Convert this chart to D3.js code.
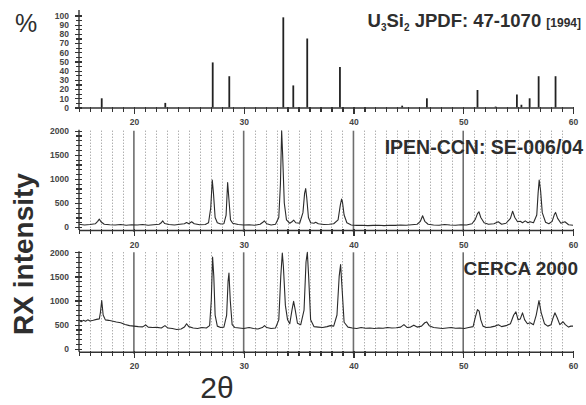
<!DOCTYPE html>
<html>
<head>
<meta charset="utf-8">
<script src="https://cdn.jsdelivr.net/npm/d3@7"></script>
<style>
    body { margin: 0; background: #fff; }
    svg { font-family: "Liberation Sans", Arial, sans-serif; }
    .tick text { font-size: 8.5px; font-weight: bold; fill: #444; }
    .domain { stroke: #333; stroke-width: 1.4; }
    .tick line { stroke: #333; stroke-width: 1.2; shape-rendering: crispEdges; }
</style>
</head>
<body>
<script>
// reference pattern U3Si2 JPDF 47-1070, [2theta, relative %]
var refSticks = [
    [17.07, 10], [22.86, 5], [27.18, 49], [28.69, 34], [33.61, 98], [34.52, 24],
    [35.79, 75], [38.77, 44], [44.44, 2], [46.69, 10], [51.30, 19], [52.95, 1],
    [54.89, 14], [55.30, 3], [56.05, 10], [56.87, 34], [58.41, 34]
];

// IPEN-CCN SE-006/04 diffractogram, [2theta, counts]
var ipenPattern = [
    [15.0, 60], [15.5, 45], [16.0, 55], [16.5, 70], [16.7, 120], [16.85, 165], [17.0, 110], [17.3, 60],
    [17.8, 50], [18.3, 45], [18.8, 55], [19.3, 40], [19.8, 50], [20.3, 45], [20.8, 55], [21.3, 40],
    [21.8, 50], [22.3, 60], [22.5, 90], [22.62, 130], [22.8, 75], [23.2, 55], [23.7, 45], [24.2, 60],
    [24.6, 70], [24.8, 95], [25.0, 70], [25.26, 110], [25.5, 70], [26.0, 50], [26.5, 55], [26.8, 90],
    [27.0, 400], [27.14, 975], [27.25, 700], [27.4, 200], [27.6, 90], [27.9, 65], [28.2, 70], [28.4, 250],
    [28.54, 925], [28.65, 600], [28.8, 150], [29.0, 80], [29.5, 55], [30.0, 45], [30.5, 50], [31.0, 40],
    [31.5, 60], [31.75, 100], [31.88, 130], [32.1, 70], [32.5, 45], [32.9, 60], [33.2, 200], [33.35, 900],
    [33.46, 2000], [33.55, 1500], [33.7, 500], [33.9, 150], [34.2, 80], [34.4, 110], [34.55, 145], [34.75, 90],
    [35.1, 80], [35.4, 300], [35.55, 700], [35.65, 800], [35.75, 600], [35.9, 200], [36.1, 90], [36.4, 80],
    [36.56, 100], [36.8, 70], [37.3, 55], [37.8, 60], [38.2, 70], [38.6, 150], [38.8, 450], [38.92, 580],
    [39.0, 520], [39.15, 250], [39.4, 90], [39.8, 45], [40.3, 35], [40.8, 40], [41.3, 30], [41.8, 35],
    [42.3, 40], [42.8, 30], [43.3, 40], [43.8, 35], [44.3, 45], [44.8, 40], [45.3, 50], [45.8, 60],
    [46.1, 120], [46.3, 235], [46.5, 120], [46.8, 60], [47.3, 45], [47.8, 40], [48.3, 55], [48.8, 45],
    [49.3, 40], [49.8, 50], [50.3, 45], [50.8, 70], [51.1, 160], [51.3, 280], [51.43, 318], [51.6, 200],
    [51.9, 90], [52.3, 60], [52.8, 70], [53.19, 110], [53.5, 60], [53.9, 80], [54.3, 180], [54.5, 330],
    [54.7, 200], [54.95, 110], [55.2, 120], [55.4, 90], [55.65, 130], [55.9, 90], [56.1, 110], [56.4, 90],
    [56.7, 250], [56.82, 700], [56.92, 975], [57.05, 750], [57.2, 300], [57.5, 100], [57.8, 70], [58.1, 120],
    [58.3, 260], [58.41, 305], [58.6, 180], [58.9, 80], [59.26, 110], [59.6, 50], [60.0, 40]
];

// CERCA 2000 diffractogram, [2theta, counts]
var cercaPattern = [
    [15.0, 606], [15.2, 560], [15.4, 590], [15.6, 570], [15.8, 600], [16.0, 575], [16.3, 590], [16.6, 610],
    [16.85, 620], [16.95, 750], [17.07, 1000], [17.2, 700], [17.4, 600], [17.7, 590], [18.0, 575], [18.4, 555],
    [18.8, 540], [19.2, 505], [19.6, 480], [20.0, 470], [20.4, 460], [20.8, 455], [21.07, 495], [21.3, 450],
    [21.7, 440], [22.1, 445], [22.5, 430], [22.83, 480], [23.1, 430], [23.5, 420], [23.9, 400], [24.3, 410],
    [24.6, 450], [24.8, 520], [25.0, 460], [25.4, 430], [25.8, 420], [26.2, 440], [26.6, 430], [26.9, 480],
    [27.05, 1000], [27.17, 1900], [27.28, 1500], [27.4, 700], [27.6, 470], [27.9, 440], [28.2, 450], [28.45, 700],
    [28.58, 1400], [28.66, 1570], [28.78, 1000], [28.95, 500], [29.2, 440], [29.6, 430], [30.0, 420], [30.5, 440],
    [30.9, 420], [31.3, 410], [31.7, 440], [31.9, 480], [32.1, 440], [32.5, 420], [32.9, 430], [33.2, 600],
    [33.38, 1500], [33.52, 1985], [33.62, 1700], [33.8, 900], [34.0, 600], [34.2, 520], [34.4, 800], [34.55, 985],
    [34.7, 800], [34.9, 530], [35.2, 500], [35.5, 800], [35.68, 1800], [35.8, 2000], [35.92, 1500], [36.1, 600],
    [36.4, 460], [36.8, 450], [37.2, 440], [37.6, 460], [37.9, 480], [38.2, 470], [38.5, 700], [38.7, 1500],
    [38.83, 1745], [38.95, 1300], [39.15, 550], [39.5, 450], [39.9, 430], [40.3, 420], [40.7, 440], [41.1, 425],
    [41.5, 430], [41.9, 420], [42.3, 430], [42.7, 425], [43.1, 440], [43.5, 430], [43.9, 435], [44.3, 450],
    [44.6, 500], [44.9, 440], [45.2, 450], [45.5, 490], [45.8, 450], [46.2, 470], [46.5, 540], [46.67, 558],
    [46.9, 480], [47.3, 440], [47.7, 430], [48.1, 420], [48.5, 430], [48.9, 440], [49.3, 425], [49.7, 430],
    [50.1, 420], [50.5, 440], [50.9, 460], [51.1, 650], [51.3, 813], [51.45, 780], [51.6, 600], [51.8, 470],
    [52.1, 440], [52.5, 450], [52.9, 470], [53.2, 500], [53.5, 460], [53.9, 480], [54.3, 520], [54.6, 700],
    [54.8, 765], [55.0, 600], [55.2, 620], [55.4, 745], [55.6, 600], [55.85, 520], [56.1, 540], [56.4, 500],
    [56.65, 700], [56.9, 1000], [57.1, 750], [57.4, 520], [57.7, 470], [58.0, 500], [58.2, 650], [58.35, 745],
    [58.55, 650], [58.8, 500], [59.1, 560], [59.3, 500], [59.6, 450], [59.8, 470], [60.0, 470]
];

var xTickLabels = [20, 30, 40, 50, 60];
var solidGrid = [20, 30, 40, 50];
var percentTicks = [0, 10, 20, 30, 40, 50, 60, 70, 80, 90, 100];
var countTicks = [0, 500, 1000, 1500, 2000];

var width = 586, height = 405;
var svg = d3.select("body").append("svg")
    .attr("width", width)
    .attr("height", height);

var x = d3.scaleLinear().domain([15, 60]).range([79, 573]);
var yTop = d3.scaleLinear().domain([0, 105]).range([107.5, 10.9]);
var yMid = d3.scaleLinear().domain([-60, 2000]).range([230, 130.7]);
var yBot = d3.scaleLinear().domain([-60, 2000]).range([351.7, 252.3]);

var degrees = d3.range(16, 60);
var textColor = "#2e2e2e";

function drawXAxis(y0) {
    // minor ticks every degree
    var minor = svg.append("g")
        .attr("transform", "translate(0," + y0 + ")")
        .call(d3.axisBottom(x).tickValues(d3.range(15, 61)).tickSize(4).tickFormat(function () { return ""; }));
    minor.select(".domain").remove();
    minor.selectAll(".tick line").attr("y1", -1).attr("y2", 4);
    var ax = svg.append("g")
        .attr("transform", "translate(0," + y0 + ")")
        .call(d3.axisBottom(x).tickValues(xTickLabels).tickSize(6).tickSizeOuter(0).tickPadding(4));
    ax.selectAll(".tick text").attr("dy", "0.9em");
}

function drawYAxis(scale, ticks, minorStep, top) {
    var d = scale.domain();
    var minor = svg.append("g")
        .attr("transform", "translate(" + x(15) + ",0)")
        .call(d3.axisLeft(scale).tickValues(d3.range(0, ticks[ticks.length - 1] + 1, minorStep)).tickSize(3).tickFormat(function () { return ""; }));
    minor.select(".domain").remove();
    minor.selectAll(".tick line").attr("x2", 3).attr("x1", -3);
    var ax = svg.append("g")
        .attr("transform", "translate(" + x(15) + ",0)")
        .call(d3.axisLeft(scale).tickValues(ticks).tickSize(4).tickSizeOuter(0).tickPadding(6).tickFormat(d3.format("d")));
    ax.select(".domain").attr("d", "M0," + scale(d[0]) + "V" + top);
    ax.selectAll(".tick line").attr("x1", 3).attr("x2", -4);
}

function drawGrid(scale) {
    var top = scale(2000), bottom = scale(-60);
    svg.append("g").selectAll("line")
        .data(degrees.filter(function (d) { return solidGrid.indexOf(d) == -1; }))
        .enter().append("line")
        .attr("x1", function (d) { return Math.round(x(d)) + 0.5; })
        .attr("x2", function (d) { return Math.round(x(d)) + 0.5; })
        .attr("y1", top)
        .attr("y2", bottom)
        .attr("stroke", "#8c8c8c")
        .attr("stroke-width", 1)
        .attr("stroke-dasharray", "1,2");
    svg.append("g").selectAll("line")
        .data(solidGrid)
        .enter().append("line")
        .attr("x1", function (d) { return x(d); })
        .attr("x2", function (d) { return x(d); })
        .attr("y1", top)
        .attr("y2", bottom + 2)
        .attr("stroke", "#6e6e6e")
        .attr("stroke-width", 1.6);
}

// Top panel: stick pattern
svg.append("g").selectAll("line")
    .data(refSticks)
    .enter().append("line")
    .attr("x1", function (d) { return x(d[0]); })
    .attr("x2", function (d) { return x(d[0]); })
    .attr("y1", yTop(0))
    .attr("y2", function (d) { return yTop(d[1]); })
    .attr("stroke", "#222")
    .attr("stroke-width", 1.8);
drawXAxis(yTop(0));
drawYAxis(yTop, percentTicks, 5, 10);

// Middle and bottom panels: diffractograms
var line = function (scale) {
    return d3.line().x(function (d) { return x(d[0]); }).y(function (d) { return scale(d[1]); });
};

[[yMid, ipenPattern], [yBot, cercaPattern]].forEach(function (p) {
    drawGrid(p[0]);
    svg.append("path")
        .datum(p[1])
        .attr("d", line(p[0]))
        .attr("fill", "none")
        .attr("stroke", "#2b2b2b")
        .attr("stroke-width", 1.1)
        .attr("stroke-linejoin", "round");
    drawXAxis(p[0](-60));
    drawYAxis(p[0], countTicks, 100, p[0](2000) - 1);
});

// Titles
svg.append("text")
    .attr("x", 15).attr("y", 32)
    .style("font-size", "25px")
    .style("fill", textColor)
    .text("%");

var title = svg.append("text")
    .attr("x", 581).attr("y", 27)
    .attr("text-anchor", "end")
    .style("font-weight", "bold")
    .style("font-size", "18.5px")
    .style("fill", textColor);
title.append("tspan").text("U");
title.append("tspan").attr("dy", 4).style("font-size", "10px").text("3");
title.append("tspan").attr("dy", -4).text("Si");
title.append("tspan").attr("dy", 4).style("font-size", "10px").text("2");
title.append("tspan").attr("dy", -4).text(" JPDF: 47-1070 ");
title.append("tspan").style("font-size", "12px").text("[1994]");

svg.append("text")
    .attr("x", 583).attr("y", 154)
    .attr("text-anchor", "end")
    .style("font-weight", "bold")
    .style("font-size", "19.5px")
    .style("fill", textColor)
    .text("IPEN-CCN: SE-006/04");

svg.append("text")
    .attr("x", 578).attr("y", 275)
    .attr("text-anchor", "end")
    .style("font-weight", "bold")
    .style("font-size", "19px")
    .style("fill", textColor)
    .text("CERCA 2000");

svg.append("text")
    .attr("transform", "translate(33,254) rotate(-90)")
    .attr("text-anchor", "middle")
    .style("font-weight", "bold")
    .style("font-size", "28px")
    .style("fill", textColor)
    .text("RX intensity");

svg.append("text")
    .attr("x", 217).attr("y", 398)
    .attr("text-anchor", "middle")
    .style("font-size", "30px")
    .style("fill", textColor)
    .text("2θ");
</script>
</body>
</html>
